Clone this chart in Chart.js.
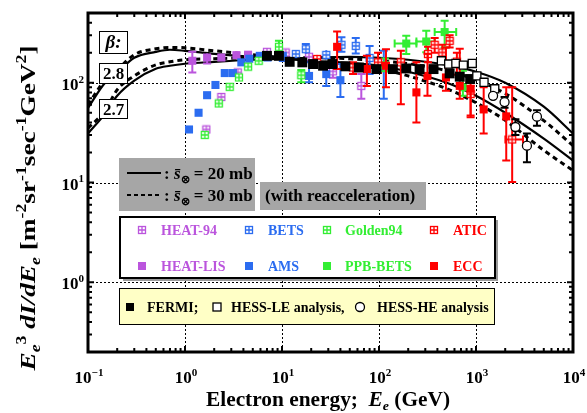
<!DOCTYPE html>
<html>
<head>
<meta charset="UTF-8">
<title>Electron spectrum</title>
<script src="https://cdn.jsdelivr.net/npm/chart.js"></script>
<style>
  body { margin: 0; background: #fff; }
</style>
</head>
<body>
<canvas id="grafico" width="587" height="413"></canvas>
<script>
// model curves (E in GeV, E^3 dI/dE)
const curveE   = [0.1, 0.15, 0.2, 0.3, 0.5, 0.7, 1, 2, 5, 10, 20, 50, 100, 200, 500, 1000, 2000, 5000, 10000];
const b28_20mb = [56, 100, 126, 178, 204, 214, 209, 195, 182, 174, 166, 158, 148, 129, 100, 74, 50, 27.5, 16.6];
const b28_30mb = [60, 107, 135, 191, 219, 226, 224, 209, 191, 178, 166, 151, 138, 117, 87, 63, 42, 21, 13.2];
const b27_20mb = [31, 49, 74, 105, 138, 148, 155, 162, 170, 174, 178, 182, 178, 170, 151, 129, 100, 57.5, 31];
const b27_30mb = [35, 52.5, 85, 117, 151, 162, 170, 174, 178, 178, 178, 174, 166, 155, 132, 107, 78, 41.7, 23.4];

// measurements
const heat94E  = [1.66, 2.37, 3.5, 7.0, 10.9, 19, 33.5, 65.7];
const heat94V  = [34, 72, 127, 204, 201, 182, 130, 93];
const heat94Lo = [31, 66, 117, 188, 186, 165, 112, 69];
const heat94Hi = [37, 78, 137, 220, 216, 200, 150, 122];

const heatLisE  = [1.19, 1.69, 2.37, 3.39, 4.47];
const heatLisV  = [166, 179, 179, 189, 191];
const heatLisLo = [127, 156, 165, 175, 178];
const heatLisHi = [205, 196, 193, 203, 204];

const betsE  = [13.9, 17.6, 28.6, 41, 57.6, 80];
const betsV  = [194, 217, 190, 240, 234, 177];
const betsLo = [178, 195, 170, 205, 196, 122];
const betsHi = [210, 245, 212, 285, 280, 234];

const amsE  = [1.10, 1.38, 1.69, 2.06, 2.57, 3.12, 3.81, 4.6, 5.9, 7.1, 10.2, 19, 28.6, 40, 112];
const amsV  = [34, 50, 75, 95, 125, 125, 160, 174, 186, 179, 186, 117, 122, 106, 140];
const amsLo = [32, 47, 71, 90, 119, 119, 152, 165, 176, 170, 165, 101, 93, 72, 69];
const amsHi = [36, 53, 79, 100, 131, 131, 168, 183, 196, 188, 205, 160, 150, 154, 209];

const goldenE  = [1.6, 2.23, 2.89, 3.6, 4.47, 5.75, 9.3, 15.8];
const goldenV  = [30, 62, 91, 113, 145, 166, 229, 119];
const goldenLo = [28, 58, 86, 107, 138, 158, 209, 101];
const goldenHi = [32, 66, 96, 119, 152, 174, 263, 134];

const ppbE   = [115, 191, 307, 475, 733];
const ppbV   = [150, 247, 259, 322, 90];
const ppbLo  = [130, 194, 202, 225, 74];
const ppbHi  = [175, 295, 331, 417, 132];
const ppbELo = [115, 145, 243, 375, 733];
const ppbEHi = [115, 243, 375, 625, 733];

const aticE   = [23, 54, 97.7, 168, 320, 375, 450, 535, 635, 880, 2360];
const aticV   = [173, 142, 160, 160, 194, 240, 201, 263, 163, 77, 27];
const aticLo  = [155, 122, 125, 61, 160, 200, 165, 225, 120, 47, 10.1];
const aticHi  = [190, 160, 200, 209, 230, 280, 240, 300, 200, 93, 90];
const aticELo = [23, 54, 97.7, 168, 320, 375, 450, 535, 635, 880, 2010];
const aticEHi = [23, 54, 97.7, 168, 320, 375, 450, 535, 635, 880, 3050];

const eccE  = [37, 75, 118, 243, 316, 490, 680, 880, 1200, 2050];
const eccV  = [229, 137, 148, 80, 117, 113, 93, 87, 54, 46];
const eccLo = [137, 93, 90, 40, 74, 83, 69, 45, 31, 16.6];
const eccHi = [326, 186, 217, 160, 195, 225, 219, 113, 90, 90];

const fermiE = [7.0, 9.3, 12.0, 16.2, 20.9, 26.5, 33, 45, 62, 94, 139, 191, 262, 365, 535, 680, 870];
const fermiV = [186, 186, 162, 160, 154, 148, 154, 146, 142, 137, 137, 139, 137, 137, 124, 115, 109];

const hessLeE = [440, 523, 620, 740, 915, 1020, 1210, 1560];
const hessLeV = [166, 154, 156, 150, 156, 117, 101, 87];

const hessHeE  = [1500, 1970, 2550, 3350, 4250];
const hessHeV  = [74, 64, 36, 23.4, 45.7];
const hessHeLo = [68, 56, 30, 16, 37];
const hessHeHi = [80, 72, 43, 31, 53];

const xTickExp = [-1, 0, 1, 2, 3, 4];
const yTickExp = [0, 1, 2];

const PURPLE = '#bb55dd', BLUE = '#2b6cf0', GREEN = '#33ee33', RED = '#ff0000';
const SERIF = '"Liberation Serif", "Times New Roman", serif';

function pts(xs, ys) { return xs.map((x, i) => ({ x: x, y: ys[i] })); }

// open square with a cross inside
function boxCross(color) {
  const c = document.createElement('canvas');
  c.width = 10; c.height = 10;
  const g = c.getContext('2d');
  g.fillStyle = '#fff';
  g.fillRect(1, 1, 8, 8);
  g.strokeStyle = color;
  g.lineWidth = 1.3;
  g.strokeRect(1.5, 1.5, 7, 7);
  g.beginPath();
  g.moveTo(5, 1.5); g.lineTo(5, 8.5);
  g.moveTo(1.5, 5); g.lineTo(8.5, 5);
  g.stroke();
  return c;
}

function marks(label, xs, ys, color, style, extra) {
  return Object.assign({
    label: label, data: pts(xs, ys), showLine: false,
    pointStyle: style, pointRadius: 5.7, pointBorderWidth: 0,
    backgroundColor: color, borderColor: color, errColor: color
  }, extra || {});
}

function curve(label, ys, dashed) {
  return {
    label: label, data: pts(curveE, ys), showLine: true, pointRadius: 0,
    borderColor: '#000', borderWidth: dashed ? 3 : 2.2,
    borderDash: dashed ? [5, 4] : [], cubicInterpolationMode: 'monotone', fill: false
  };
}

const datasets = [
  marks('HESS-HE analysis', hessHeE, hessHeV, '#fff', 'circle',
    { pointRadius: 4.5, pointBorderWidth: 1.3, borderColor: '#000', errColor: '#000', errLo: hessHeLo, errHi: hessHeHi }),
  marks('HESS-LE analysis', hessLeE, hessLeV, '#fff', 'rect',
    { pointBorderWidth: 1.3, borderColor: '#000' }),
  marks('FERMI', fermiE, fermiV, '#000', 'rect', { pointRadius: 7 }),
  marks('ECC', eccE, eccV, RED, 'rect', { errLo: eccLo, errHi: eccHi }),
  marks('ATIC', aticE, aticV, RED, boxCross(RED), { errLo: aticLo, errHi: aticHi, xLo: aticELo, xHi: aticEHi }),
  marks('PPB-BETS', ppbE, ppbV, GREEN, 'rect', { errLo: ppbLo, errHi: ppbHi, xLo: ppbELo, xHi: ppbEHi }),
  marks('Golden94', goldenE, goldenV, GREEN, boxCross(GREEN), { errLo: goldenLo, errHi: goldenHi }),
  marks('AMS', amsE, amsV, BLUE, 'rect', { errLo: amsLo, errHi: amsHi }),
  marks('BETS', betsE, betsV, BLUE, boxCross(BLUE), { errLo: betsLo, errHi: betsHi }),
  marks('HEAT-LIS', heatLisE, heatLisV, PURPLE, 'rect', { errLo: heatLisLo, errHi: heatLisHi }),
  marks('HEAT-94', heat94E, heat94V, PURPLE, boxCross(PURPLE), { errLo: heat94Lo, errHi: heat94Hi }),
  curve('beta 2.8, 20 mb', b28_20mb, false),
  curve('beta 2.8, 30 mb', b28_30mb, true),
  curve('beta 2.7, 20 mb', b27_20mb, false),
  curve('beta 2.7, 30 mb', b27_30mb, true)
];

function font(sz, it) { return (it ? 'italic ' : '') + 'bold ' + sz + 'px ' + SERIF; }

// segments: [text, flags]  i = italic, ^ = superscript, _ = subscript
function richWidth(ctx, segs, sz) {
  let w = 0;
  segs.forEach(([t, f]) => {
    const small = f.includes('^') || f.includes('_');
    ctx.font = font(small ? sz * 0.65 : sz, f.includes('i'));
    w += ctx.measureText(t).width;
  });
  return w;
}
function richDraw(ctx, segs, x, y, sz) {
  segs.forEach(([t, f]) => {
    const small = f.includes('^') || f.includes('_');
    ctx.font = font(small ? sz * 0.65 : sz, f.includes('i'));
    const dy = f.includes('^') ? -sz * 0.42 : f.includes('_') ? sz * 0.22 : 0;
    ctx.fillText(t, x, y + dy);
    x += ctx.measureText(t).width;
  });
  return x;
}

const errorBars = {
  id: 'errorBars',
  beforeDatasetDraw(chart, args) {
    const ds = chart.data.datasets[args.index];
    if (!ds.errLo && !ds.xLo) return;
    const ctx = chart.ctx, xs = chart.scales.x, ys = chart.scales.y;
    ctx.save();
    ctx.strokeStyle = ds.errColor;
    ctx.lineWidth = 2;
    ds.data.forEach((p, i) => {
      const px = xs.getPixelForValue(p.x), py = ys.getPixelForValue(p.y);
      ctx.beginPath();
      if (ds.errLo) {
        const y1 = ys.getPixelForValue(ds.errLo[i]), y2 = ys.getPixelForValue(ds.errHi[i]);
        ctx.moveTo(px, y1); ctx.lineTo(px, y2);
        if (Math.abs(y1 - py) > 5) { ctx.moveTo(px - 4, y1); ctx.lineTo(px + 4, y1); }
        if (Math.abs(y2 - py) > 5) { ctx.moveTo(px - 4, y2); ctx.lineTo(px + 4, y2); }
      }
      if (ds.xLo && ds.xLo[i] !== ds.xHi[i]) {
        const x1 = xs.getPixelForValue(ds.xLo[i]), x2 = xs.getPixelForValue(ds.xHi[i]);
        ctx.moveTo(x1, py); ctx.lineTo(x2, py);
        ctx.moveTo(x1, py - 4); ctx.lineTo(x1, py + 4);
        ctx.moveTo(x2, py - 4); ctx.lineTo(x2, py + 4);
      }
      ctx.stroke();
    });
    ctx.restore();
  }
};

const frame = {
  id: 'frame',
  beforeDatasetsDraw(chart) {
    const ctx = chart.ctx, a = chart.chartArea, xs = chart.scales.x, ys = chart.scales.y;
    ctx.save();
    ctx.strokeStyle = '#000';
    ctx.lineWidth = 1;
    ctx.setLineDash([2, 2]);
    ctx.beginPath();
    [1, 10, 100, 1000].forEach(v => {
      const px = Math.round(xs.getPixelForValue(v)) + 0.5;
      ctx.moveTo(px, a.top); ctx.lineTo(px, a.bottom);
    });
    [1, 10, 100].forEach(v => {
      const py = Math.round(ys.getPixelForValue(v)) + 0.5;
      ctx.moveTo(a.left, py); ctx.lineTo(a.right, py);
    });
    ctx.stroke();
    ctx.restore();
  },
  afterDraw(chart) {
    const ctx = chart.ctx, a = chart.chartArea, xs = chart.scales.x, ys = chart.scales.y;
    ctx.save();
    ctx.fillStyle = '#000';
    ctx.strokeStyle = '#000';

    // inward ticks on all four sides
    ctx.lineWidth = 2;
    ctx.beginPath();
    for (let e = -1; e <= 3; e++) {
      for (let m = 1; m <= 9; m++) {
        const px = xs.getPixelForValue(m * Math.pow(10, e));
        const len = m === 1 ? 6 : 4;
        ctx.moveTo(px, a.bottom); ctx.lineTo(px, a.bottom - len);
        ctx.moveTo(px, a.top); ctx.lineTo(px, a.top + len);
      }
    }
    for (let e = -1; e <= 2; e++) {
      for (let m = 1; m <= 9; m++) {
        const v = m * Math.pow(10, e);
        if (v < 0.2 || v > 500) continue;
        const py = ys.getPixelForValue(v);
        const len = m === 1 ? 6 : 4;
        ctx.moveTo(a.left, py); ctx.lineTo(a.left + len, py);
        ctx.moveTo(a.right, py); ctx.lineTo(a.right - len, py);
      }
    }
    ctx.stroke();
    ctx.lineWidth = 3;
    ctx.strokeRect(a.left, a.top, a.right - a.left, a.bottom - a.top);

    // tick labels
    xTickExp.forEach(e => {
      const segs = [['10', ''], [String(e).replace('-', '\u2212'), '^']];
      const w = richWidth(ctx, segs, 17);
      richDraw(ctx, segs, xs.getPixelForValue(Math.pow(10, e)) - w / 2 + 1, 383, 17);
    });
    yTickExp.forEach(e => {
      const segs = [['10', ''], [String(e), '^']];
      const w = richWidth(ctx, segs, 17);
      richDraw(ctx, segs, 84 - w, ys.getPixelForValue(Math.pow(10, e)) + 7, 17);
    });

    // axis titles
    const xTitle = [['Electron energy;  ', ''], ['E', 'i'], ['e', 'i_'], [' (GeV)', '']];
    let w = richWidth(ctx, xTitle, 20);
    ctx.save();
    ctx.translate(328, 406);
    ctx.scale(244 / w, 1);
    richDraw(ctx, xTitle, -w / 2, 0, 20);
    ctx.restore();

    const yTitle = [['E', 'i'], ['e', 'i_'], ['3', '^'], [' dI/dE', 'i'], ['e', 'i_'], [' [m', ''], ['-2', '^'],
      ['sr', ''], ['-1', '^'], ['sec', ''], ['-1', '^'], ['GeV', ''], ['2', '^'], [']', '']];
    w = richWidth(ctx, yTitle, 21);
    ctx.save();
    ctx.translate(35, 208);
    ctx.rotate(-Math.PI / 2);
    ctx.scale(325 / w, 1);
    richDraw(ctx, yTitle, -w / 2, 0, 21);
    ctx.restore();

    // beta labels
    ctx.lineWidth = 1;
    [['\u03b2:', 31, 53, true], ['2.8', 63, 83, false], ['2.7', 99, 118, false]].forEach(([t, y1, y2, it]) => {
      ctx.fillStyle = '#fff';
      ctx.fillRect(99, y1, 28, y2 - y1);
      ctx.strokeRect(99.5, y1 + 0.5, 28, y2 - y1);
      ctx.fillStyle = '#000';
      ctx.font = font(it ? 19 : 17, it);
      ctx.textAlign = 'center';
      ctx.fillText(t, 113.5, (y1 + y2) / 2 + 6);
      ctx.textAlign = 'left';
    });

    // cross-section key
    ctx.fillStyle = '#a6a6a6';
    ctx.fillRect(119, 158, 136, 53);
    ctx.fillRect(260, 182, 166, 28);
    ctx.strokeStyle = '#000';
    ctx.lineWidth = 2;
    ctx.beginPath(); ctx.moveTo(127, 173); ctx.lineTo(161, 173); ctx.stroke();
    ctx.setLineDash([4, 3]);
    ctx.beginPath(); ctx.moveTo(127, 195); ctx.lineTo(161, 195); ctx.stroke();
    ctx.setLineDash([]);
    ctx.fillStyle = '#000';
    richDraw(ctx, [[': ', ''], ['s\u0304', 'i'], ['\u2297', '_'], [' = 20 mb', '']], 164, 179, 17);
    richDraw(ctx, [[': ', ''], ['s\u0304', 'i'], ['\u2297', '_'], [' = 30 mb', '']], 164, 201, 17);
    ctx.font = font(17, false);
    ctx.fillText('(with reacceleration)', 265, 201);

    // experiment legend
    ctx.fillStyle = '#9a9a9a';
    ctx.fillRect(123, 220, 375, 61);
    ctx.fillStyle = '#fff';
    ctx.fillRect(120, 217, 375, 61);
    ctx.lineWidth = 2;
    ctx.strokeRect(120, 217, 375, 61);
    const items = [
      ['HEAT-94', PURPLE, true, 0, 0], ['BETS', BLUE, true, 1, 0], ['Golden94', GREEN, true, 2, 0], ['ATIC', RED, true, 3, 0],
      ['HEAT-LIS', PURPLE, false, 0, 1], ['AMS', BLUE, false, 1, 1], ['PPB-BETS', GREEN, false, 2, 1], ['ECC', RED, false, 3, 1]
    ];
    const mx = [142, 249, 327, 434], tx = [161, 268, 345, 453], ry = [230, 266];
    items.forEach(([t, c, open, col, row]) => {
      if (open) ctx.drawImage(boxCross(c), mx[col] - 5, ry[row] - 5);
      else { ctx.fillStyle = c; ctx.fillRect(mx[col] - 4, ry[row] - 4, 8, 8); }
      ctx.fillStyle = c;
      ctx.font = font(14, false);
      ctx.fillText(t, tx[col], ry[row] + 5);
    });

    // FERMI / HESS legend
    ctx.fillStyle = '#ffffc6';
    ctx.fillRect(119, 288, 375, 36);
    ctx.lineWidth = 1;
    ctx.strokeStyle = '#000';
    ctx.strokeRect(119.5, 288.5, 375, 36);
    ctx.fillStyle = '#000';
    ctx.fillRect(126, 303, 8, 8);
    ctx.fillStyle = '#fff';
    ctx.fillRect(213, 303, 8, 8);
    ctx.lineWidth = 1.3;
    ctx.strokeRect(213, 303, 8, 8);
    ctx.beginPath(); ctx.arc(360, 307, 4.5, 0, Math.PI * 2); ctx.fill(); ctx.stroke();
    ctx.fillStyle = '#000';
    ctx.font = font(14, false);
    ctx.fillText('FERMI;', 147, 312);
    ctx.fillText('HESS-LE analysis,', 231, 312);
    ctx.fillText('HESS-HE analysis', 377, 312);
    ctx.restore();
  }
};

const ctx = document.getElementById('grafico').getContext('2d');
new Chart(ctx, {
  type: 'scatter',
  data: { datasets: datasets },
  options: {
    responsive: false,
    animation: false,
    layout: { padding: { left: 88, top: 13, right: 14, bottom: 61 } },
    plugins: { legend: { display: false }, tooltip: { enabled: false } },
    scales: {
      x: { type: 'logarithmic', min: 0.1, max: 10000, display: false },
      y: { type: 'logarithmic', min: 0.2, max: 500, display: false }
    }
  },
  plugins: [errorBars, frame]
});
</script>
</body>
</html>
